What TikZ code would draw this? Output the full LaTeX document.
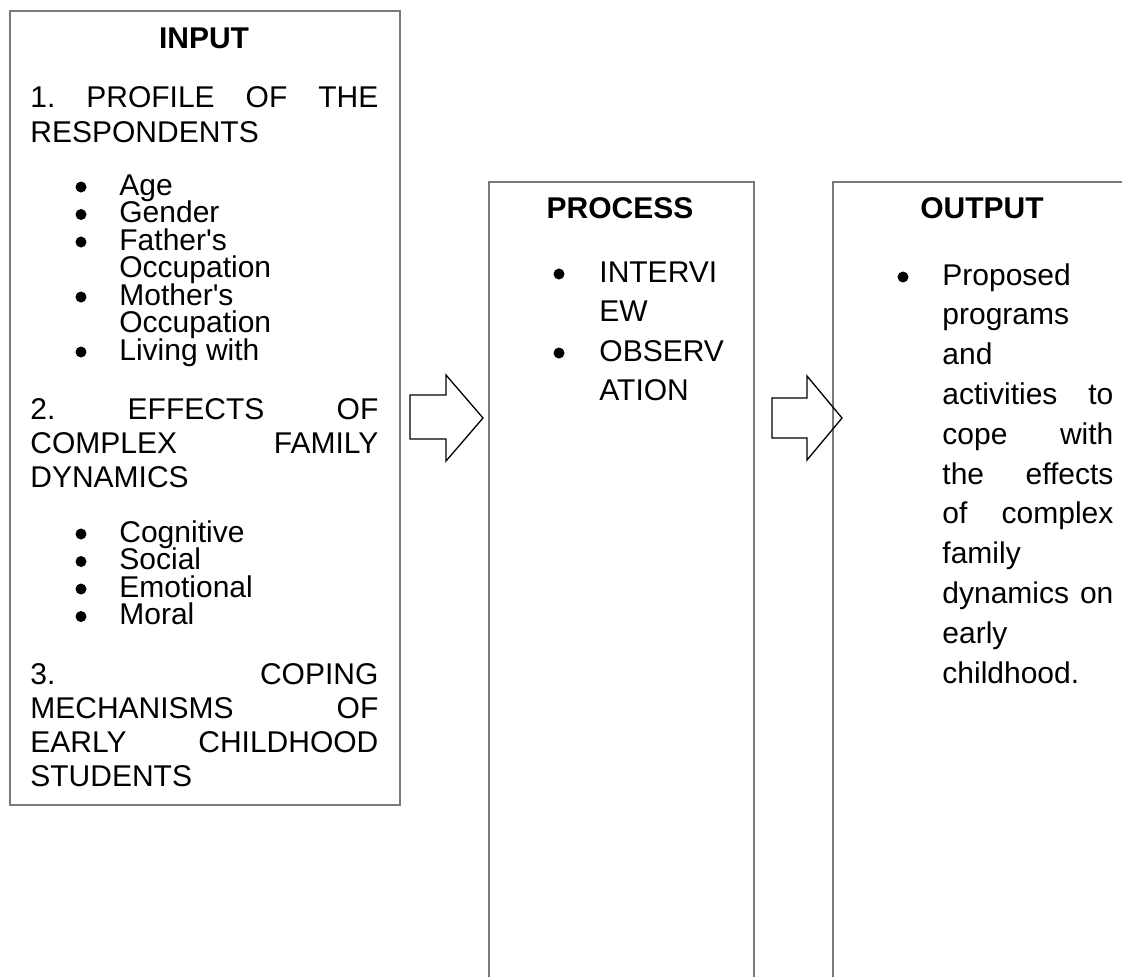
\documentclass[tikz,border=0pt]{standalone}
\usepackage{fontspec}
\setmainfont{Liberation Sans}
\definecolor{boxgray}{RGB}{122,122,122}
\begin{document}
\begin{tikzpicture}[x=0.5pt,y=-0.5pt,
  boxnode/.style={draw=boxgray, line width=1pt, rectangle, inner sep=0pt, anchor=north west},
  txt/.style={anchor=base west, inner sep=0pt, font=\fontsize{15}{18}\selectfont},
  headtxt/.style={anchor=base, inner sep=0pt, font=\fontsize{15}{18}\selectfont\bfseries},
  blockarrow/.style={draw=black, line width=0.65pt, line join=miter}]
\useasboundingbox (0,0) rectangle (1122,976);
% boxes
\node[boxnode, minimum width=195pt, minimum height=397pt] (inbox) at (9,10) {};
\node[boxnode, minimum width=132.5pt, minimum height=420pt] (procbox) at (488,181) {};
\node[boxnode, minimum width=170pt, minimum height=420pt] (outbox) at (832,181) {};
% INPUT
\node[headtxt] (inhead) at (204,48) {INPUT};
\node[txt] (i1a) at (30,107) {\hbox to 174pt{1.\hfill PROFILE\hfill OF\hfill THE}};
\node[txt] (i1b) at (30,142) {RESPONDENTS};
\foreach \t/\y [count=\k] in {Age/195,Gender/222.5,Father\textquotesingle s/250,Occupation/277.5,Mother\textquotesingle s/305,Occupation/332.5,Living with/360}{
  \node[txt] (ib\k) at (119,\y) {\t};
}
\foreach \y in {195,222.5,250,305,360}{ \fill (81,\y-8) circle[radius=2.75pt]; }
\node[txt] (i2a) at (30,419) {\hbox to 174pt{2.\hfill EFFECTS\hfill OF}};
\node[txt] (i2b) at (30,453) {\hbox to 174pt{COMPLEX\hfill FAMILY}};
\node[txt] (i2c) at (30,487) {DYNAMICS};
\foreach \t/\y [count=\k] in {Cognitive/542,Social/569.5,Emotional/597,Moral/624.5}{
  \node[txt] (ic\k) at (119,\y) {\t};
  \fill (81,\y-8) circle[radius=2.75pt];
}
\node[txt] (i3a) at (30,684) {\hbox to 174pt{3.\hfill COPING}};
\node[txt] (i3b) at (30,718) {\hbox to 174pt{MECHANISMS\hfill OF}};
\node[txt] (i3c) at (30,752) {\hbox to 174pt{EARLY\hfill CHILDHOOD}};
\node[txt] (i3d) at (30,786) {STUDENTS};
% PROCESS
\node[headtxt] (prochead) at (620,218) {PROCESS};
\node[txt] (p1) at (599,282) {INTERVI};
\node[txt] (p2) at (599,321.5) {EW};
\node[txt] (p3) at (599,361) {OBSERV};
\node[txt] (p4) at (599,400.5) {ATION};
\fill (559,274) circle[radius=2.75pt];
\fill (559,353) circle[radius=2.75pt];
% OUTPUT
\node[headtxt] (outhead) at (982,218) {OUTPUT};
\fill (903,277) circle[radius=2.75pt];
\node[txt] (o1) at (942,285) {Proposed};
\node[txt] (o2) at (942,324.8) {programs};
\node[txt] (o3) at (942,364.6) {and};
\node[txt] (o4) at (942,404.4) {\hbox to 85.5pt{activities\hfill to}};
\node[txt] (o5) at (942,444.2) {\hbox to 85.5pt{cope\hfill with}};
\node[txt] (o6) at (942,484) {\hbox to 85.5pt{the\hfill effects}};
\node[txt] (o7) at (942,523.8) {\hbox to 85.5pt{of\hfill complex}};
\node[txt] (o8) at (942,563.6) {family};
\node[txt] (o9) at (942,603.4) {\hbox to 85.5pt{dynamics\hfill on}};
\node[txt] (o10) at (942,643.2) {early};
\node[txt] (o11) at (942,683) {childhood.};
% block arrows
\draw[blockarrow] (410,395) -- (446,395) -- (446,375) -- (483,418) -- (446,461) -- (446,439) -- (410,439) -- cycle;
\draw[blockarrow] (772,398) -- (807,398) -- (807,376) -- (842,418) -- (807,460) -- (807,438) -- (772,438) -- cycle;
\end{tikzpicture}
\end{document}
